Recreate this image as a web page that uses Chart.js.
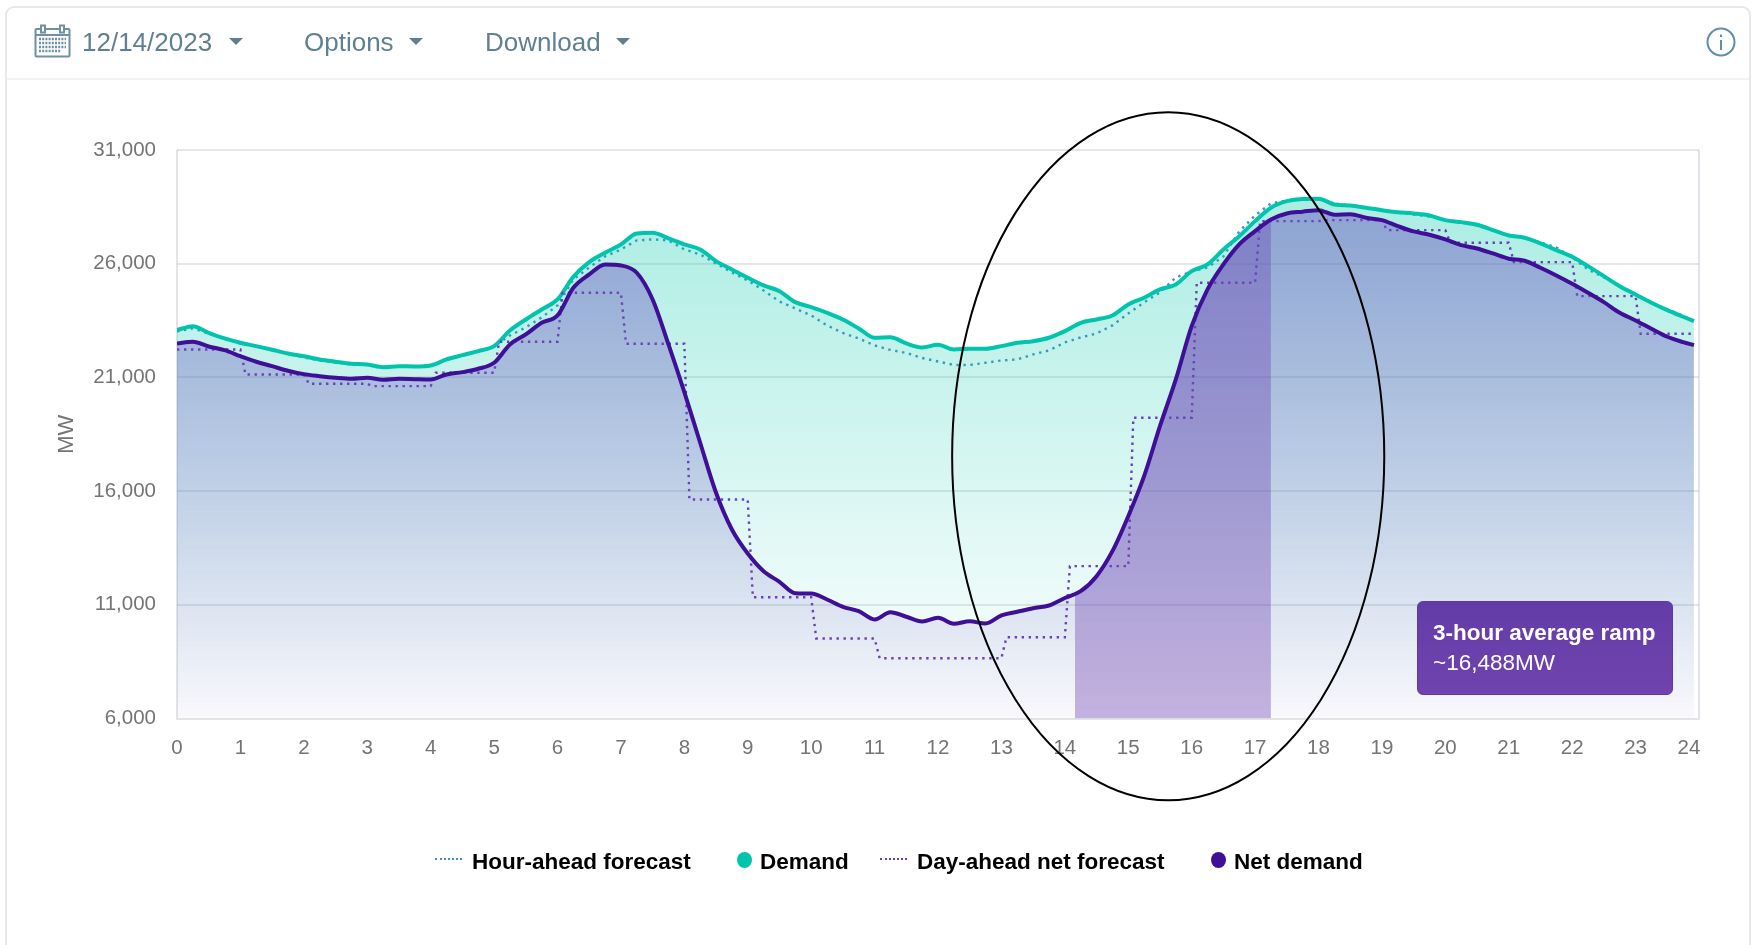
<!DOCTYPE html>
<html>
<head>
<meta charset="utf-8">
<title>Net demand 12/14/2023</title>
<script src="https://cdn.jsdelivr.net/npm/chart.js@4"></script>
<style>
html,body{margin:0;padding:0;background:#fff;width:1755px;height:945px;overflow:hidden;font-family:"Liberation Sans",Arial,sans-serif}
#card{position:absolute;left:5px;top:6px;width:1746px;height:960px;border:2px solid #e8e8e8;border-radius:9px;box-sizing:border-box}
#rule{position:absolute;left:7px;top:78px;width:1742px;height:2px;background:#f3f3f3}
canvas{position:absolute;left:0;top:0}
.tb{position:absolute;top:26px;font-size:26px;line-height:32px;color:#5f7f93;white-space:nowrap;letter-spacing:0}
.caret{position:absolute;top:38px;width:0;height:0;border-left:7px solid transparent;border-right:7px solid transparent;border-top:7px solid #5f7f93}
#ramp{position:absolute;left:1417px;top:601px;width:256px;height:94px;box-sizing:border-box;border-radius:6px;border:1px solid #5d37a3;background:linear-gradient(#633ca8,#7043ae);color:#fff;font-size:22.5px;padding:16px 0 0 15px;line-height:30px;white-space:nowrap}
#ramp b{display:block}
#legend{position:absolute;left:0;top:0}
.lg{position:absolute;top:848px;font-size:22.5px;line-height:28px;font-weight:bold;color:#000;white-space:nowrap}
.sw{position:absolute;top:858px;width:27px;height:0;border-top:2px dotted}
.dot{position:absolute;top:852px;width:15px;height:16px;border-radius:50%}
</style>
</head>
<body>
<div id="card"></div><div id="rule"></div>
<canvas id="c" width="1755" height="945"></canvas>

<svg style="position:absolute;left:34px;top:24px" width="37" height="34" viewBox="0 0 37 34" fill="none" stroke="#6f8fa3" stroke-width="2">
<rect x="1.5" y="5" width="34" height="27.5" rx="1"/><line x1="1.5" y1="11" x2="35.5" y2="11"/>
<rect x="7" y="1.5" width="4" height="7" fill="#fff"/><rect x="26" y="1.5" width="4" height="7" fill="#fff"/>
<path d="M5 15h27M5 19h27M5 23h27M5 27h22" stroke-dasharray="2 1.2" stroke-width="2.4"/>
</svg>
<div class="tb" style="left:82px">12/14/2023</div><div class="caret" style="left:229px"></div>
<div class="tb" style="left:304px">Options</div><div class="caret" style="left:409px"></div>
<div class="tb" style="left:485px">Download</div><div class="caret" style="left:616px"></div>
<svg style="position:absolute;left:1706px;top:27px" width="30" height="30" viewBox="0 0 30 30" fill="none" stroke="#5f8fa8" stroke-width="2">
<circle cx="15" cy="15" r="13.5"/><line x1="15" y1="13" x2="15" y2="23"/><line x1="15" y1="7.5" x2="15" y2="10"/>
</svg>

<div id="ramp"><b>3-hour average ramp</b>~16,488MW</div>
<div id="legend"></div>

<script>
const quarterHours = Array.from({length: 96}, (_, i) => i / 4).concat([23.92]);

const demand = [23078,23254,22963,22713,22524,22374,22216,22053,21934,21789,21688,21600,21569,21451,21495,21481,
21525,21789,21978,22154,22374,23065,23548,23988,24428,25426,26068,26482,26847,27331,27361,27111,
26847,26627,26112,25747,25382,25044,24793,24309,24089,23843,23548,23153,22744,22770,22493,22317,
22436,22229,22260,22260,22374,22524,22594,22744,23034,23403,23548,23724,24208,24503,24868,25088,
25673,25967,26627,27212,27872,28461,28751,28848,28857,28606,28562,28461,28355,28267,28210,28122,
27916,27828,27713,27476,27243,27142,26891,26596,26306,25892,25453,25013,24648,24283,23957,23667,23474];

const netDemand = [22493,22568,22361,22198,21934,21688,21495,21292,21143,21055,20984,20940,20984,20896,20940,20923,
20910,21129,21231,21380,21644,22449,22889,23403,23724,24943,25527,25967,25923,25602,24428,22449,
20351,18126,15927,14313,13257,12479,12012,11511,11498,11234,10913,10719,10354,10675,10473,10266,
10429,10165,10280,10178,10530,10693,10851,10970,11300,11599,12259,13358,14897,16657,18856,20910,
23254,24868,25967,26847,27432,27946,28210,28289,28355,28153,28179,28021,27916,27652,27419,27274,
27067,26816,26671,26451,26218,26130,25822,25484,25118,24723,24309,23843,23504,23139,22787,22550,22418];

const hourAhead = [23021,23153,22933,22713,22493,22361,22185,22031,21877,21745,21657,21569,21569,21451,21481,21481,
21525,21789,21965,22141,22361,22845,23197,23636,24164,25308,25835,26319,26627,27023,27067,27023,
26627,26407,26011,25615,25264,24824,24340,24032,23724,23285,22955,22713,22405,22207,22075,21855,
21701,21547,21547,21644,21745,21789,22009,22185,22537,22757,22933,23285,23812,24296,24736,25396,
25659,25835,26319,27419,28122,28650,28782,28870,28826,28650,28562,28474,28386,28254,28166,28078,
27946,27814,27683,27463,27243,27155,26935,26715,26275,25747,25396,25000,24648,24296,23988,23724,23460];

// One value per hour block, 0-1 through 23-24
const dayAheadNet = [22229,21129,20720,20615,21204,22567,24723,22480,15632,11335,9519,8652,8652,9576,12699,19225,25163,27872,27916,27476,26922,26069,24574,22920];

const yTicks = [6000,11000,16000,21000,26000,31000];
const legendOrder = ['Hour-ahead forecast','Demand','Day-ahead net forecast','Net demand'];
const rampStartHour = 14.16, rampStartMW = 11500, rampEndHour = 17.25;
const ellipseHour = 15.63, ellipseMW = 17536, ellipseHourRadius = 3.407, ellipseMWRadius = 15129;

const toPts = (xs, ys) => xs.map((x, i) => ({x, y: ys[i]}));
const dayAheadPts = [];
dayAheadNet.forEach((v, h) => { dayAheadPts.push({x: h === 0 ? 0 : h + 0.08, y: v}, {x: h + 1, y: v}); });
dayAheadPts[dayAheadPts.length - 1].x = 23.92;
const rampPts = [{x: rampStartHour, y: rampStartMW}].concat(
  toPts(quarterHours, netDemand).filter(p => p.x > rampStartHour && p.x <= rampEndHour));

function vGrad(ctx, area, stops) {
  const g = ctx.createLinearGradient(0, area.top, 0, area.bottom);
  stops.forEach(s => g.addColorStop(s[0], s[1]));
  return g;
}

const polish = {
  id: 'polish',
  beforeDraw(chart) {
    const items = chart.scales.x.getLabelItems();
    const last = items[items.length - 1];
    if (last && !last._moved) { last.options.translation[0] -= 10; last._moved = true; }
  },
  afterDraw(chart) {
    const {x, y} = chart.scales, c = chart.ctx;
    const cx = x.getPixelForValue(ellipseHour), cy = y.getPixelForValue(ellipseMW);
    const rx = x.getPixelForValue(ellipseHour + ellipseHourRadius) - cx;
    const ry = cy - y.getPixelForValue(ellipseMW + ellipseMWRadius);
    c.save();
    c.beginPath();
    c.ellipse(cx, cy, rx, ry, 0, 0, Math.PI * 2);
    c.lineWidth = 2;
    c.strokeStyle = '#000';
    c.stroke();
    c.restore();
  }
};

const chart = new Chart(document.getElementById('c'), {
  type: 'line',
  data: {
    datasets: [
      {label: 'Net demand', data: toPts(quarterHours, netDemand), order: 1, borderColor: '#3f0f98', borderWidth: 4, pointRadius: 0, cubicInterpolationMode: 'monotone',
       fill: 'origin',
       backgroundColor: c => c.chart.chartArea ? vGrad(c.chart.ctx, c.chart.chartArea, [[0,'rgba(105,80,190,0.52)'],[1,'rgba(110,80,190,0.04)']]) : 'transparent'},
      {label: 'Day-ahead net forecast', data: dayAheadPts, order: 2, borderColor: '#6a3fb8', borderWidth: 2.4, borderDash: [2.4,4.6], pointRadius: 0, tension: 0, fill: false},
      {label: '3-hour ramp', data: rampPts, order: 3, borderWidth: 0, pointRadius: 0, cubicInterpolationMode: 'monotone', fill: 'origin', backgroundColor: 'rgba(100,50,170,0.36)'},
      {label: 'Demand', data: toPts(quarterHours, demand), order: 4, borderColor: '#00c4ab', borderWidth: 4, pointRadius: 0, cubicInterpolationMode: 'monotone',
       fill: 'origin',
       backgroundColor: c => c.chart.chartArea ? vGrad(c.chart.ctx, c.chart.chartArea, [[0,'rgba(0,200,170,0.36)'],[1,'rgba(0,200,170,0)']]) : 'transparent'},
      {label: 'Hour-ahead forecast', data: toPts(quarterHours, hourAhead), order: 5, borderColor: '#3f8fc4', borderWidth: 2.4, borderDash: [2.4,4.6], pointRadius: 0, tension: 0, fill: false}
    ]
  },
  options: {
    responsive: false,
    animation: false,
    parsing: false,
    layout: {padding: {left: 0, right: 56, top: 150, bottom: 0}},
    plugins: {legend: {display: false}, tooltip: {enabled: false}},
    scales: {
      x: {
        type: 'linear', min: 0, max: 24,
        ticks: {stepSize: 1, autoSkip: false, maxRotation: 0, padding: 18, color: '#747474', font: {family: '"Liberation Sans",Arial,sans-serif', size: 20.5}, callback: v => String(v)},
        grid: {drawTicks: false, lineWidth: 2, color: c => (c.tick && c.tick.value === 0) ? '#e4e4e4' : (c.tick && c.tick.value === 24) ? '#e3e1ea' : 'transparent'},
        border: {display: true, color: '#e4e4e4', width: 2},
        afterFit: s => { s.height = 226.5; }
      },
      y: {
        min: 6000, max: 31000,
        afterBuildTicks: s => { s.ticks = yTicks.map(v => ({value: v})); },
        ticks: {padding: 21, color: '#747474', font: {family: '"Liberation Sans",Arial,sans-serif', size: 20.5}, callback: v => v.toLocaleString('en-US')},
        grid: {drawTicks: false, lineWidth: 2, color: 'rgba(110,110,110,0.17)'},
        border: {display: false},
        title: {display: true, text: 'MW', color: '#747474', padding: {top: 54, bottom: 0}, font: {family: '"Liberation Sans",Arial,sans-serif', size: 22}},
        afterFit: s => { s.width = 177; }
      }
    }
  },
  plugins: [polish]
});

// Legend built from the chart's own datasets, in the reference's order
const legendSlots = [
  {swatch: 'sw', left: 435, text: 472},
  {swatch: 'dot', left: 737, text: 760},
  {swatch: 'sw', left: 880, text: 917},
  {swatch: 'dot', left: 1211, text: 1234}
];
const legendEl = document.getElementById('legend');
legendOrder.forEach((name, i) => {
  const ds = chart.data.datasets.find(d => d.label === name), slot = legendSlots[i];
  const sw = document.createElement('div');
  sw.className = slot.swatch;
  sw.style.left = slot.left + 'px';
  if (slot.swatch === 'sw') sw.style.borderTopColor = ds.borderColor; else sw.style.background = ds.borderColor;
  const t = document.createElement('div');
  t.className = 'lg';
  t.style.left = slot.text + 'px';
  t.textContent = name;
  legendEl.append(sw, t);
});
</script>
</body>
</html>
